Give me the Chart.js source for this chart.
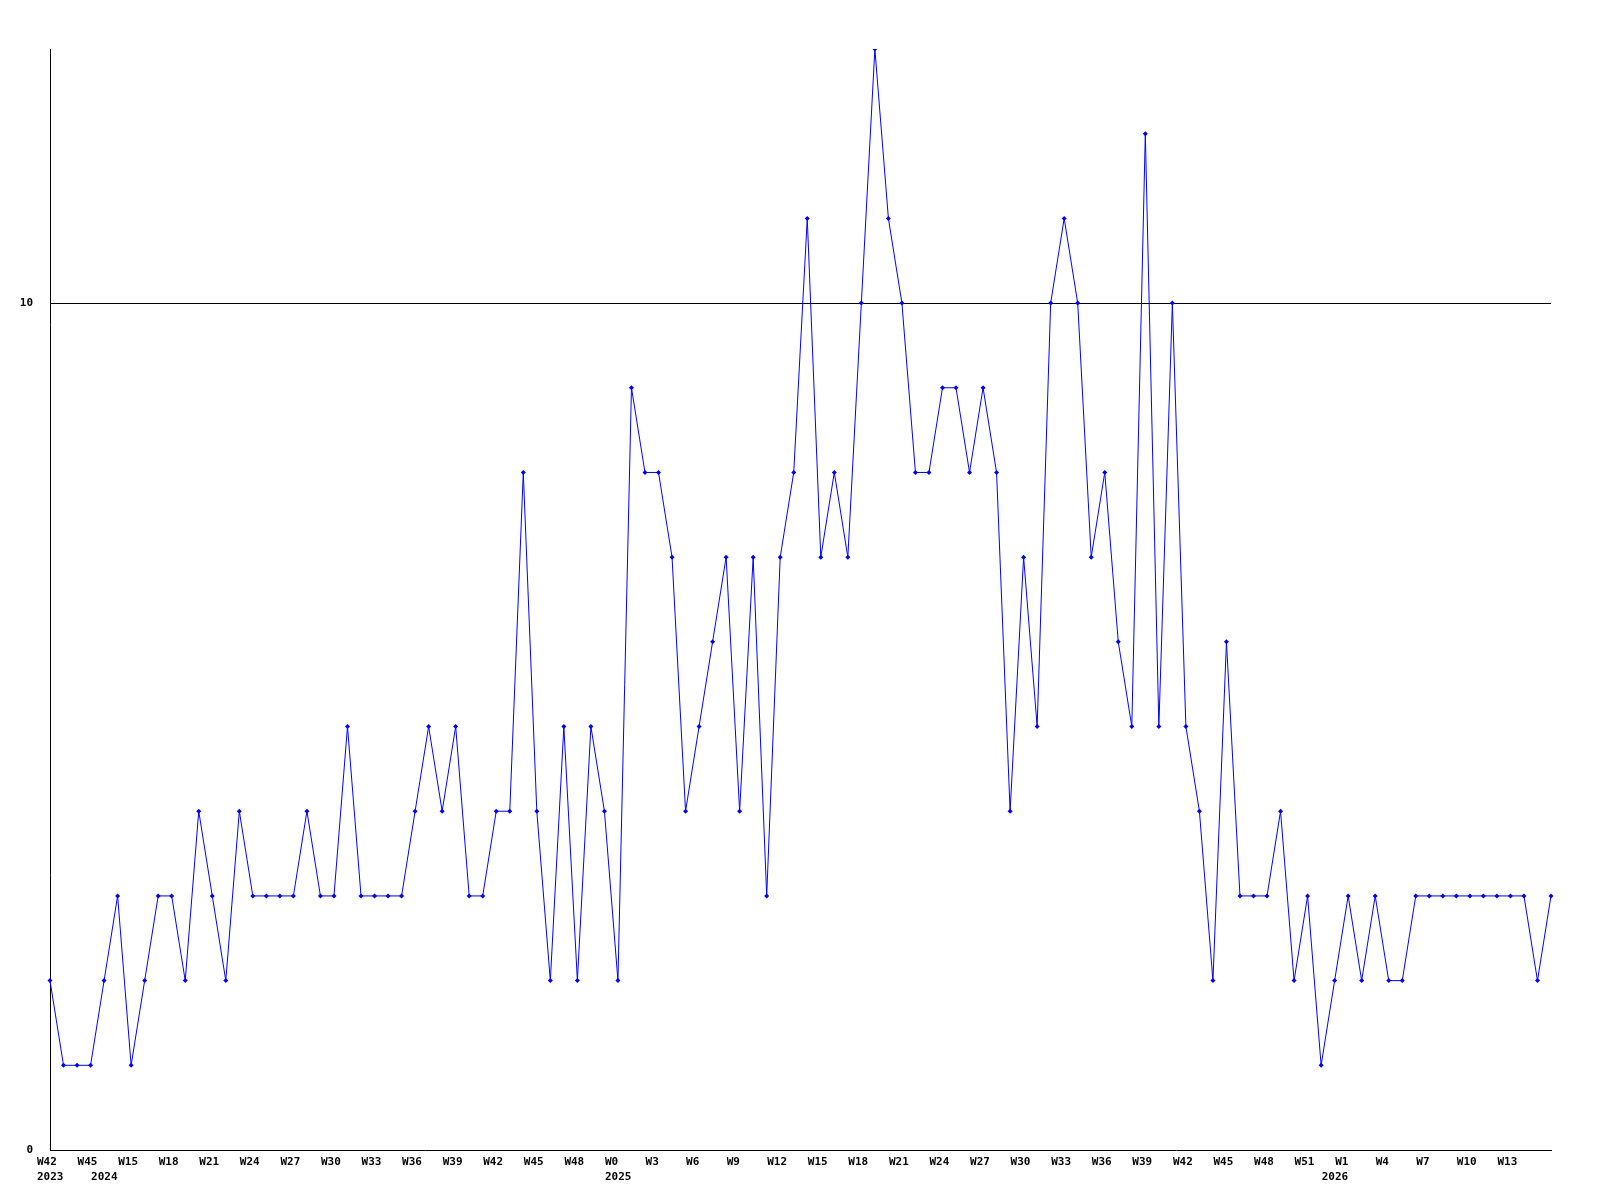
<!DOCTYPE html>
<html>
<head>
<meta charset="utf-8">
<script src="https://cdn.jsdelivr.net/npm/chart.js@4/dist/chart.umd.min.js"></script>
<style>
  html, body { margin: 0; padding: 0; background: #fff; }
  #wrap { width: 1600px; height: 1200px; }
</style>
</head>
<body>
<div id="wrap"><canvas id="myChart" width="1600" height="1200"></canvas></div>
<script>
// week labels, one per point
const weeks = [
    "W42", "W43", "W44", "W45",
    "W13", "W14", "W15", "W16", "W17", "W18", "W19", "W20", "W21", "W22", "W23", "W24",
    "W25", "W26", "W27", "W28", "W29", "W30", "W31", "W32", "W33", "W34", "W35", "W36",
    "W37", "W38", "W39", "W40", "W41", "W42", "W43", "W44", "W45", "W46", "W47", "W48",
    "W49", "W50",
    "W0", "W1", "W2", "W3", "W4", "W5", "W6", "W7", "W8", "W9", "W10", "W11", "W12",
    "W13", "W14", "W15", "W16", "W17", "W18", "W19", "W20", "W21", "W22", "W23", "W24",
    "W25", "W26", "W27", "W28", "W29", "W30", "W31", "W32", "W33", "W34", "W35", "W36",
    "W37", "W38", "W39", "W40", "W41", "W42", "W43", "W44", "W45", "W46", "W47", "W48",
    "W49", "W50", "W51", "W52",
    "W0", "W1", "W2", "W3", "W4", "W5", "W6", "W7", "W8", "W9", "W10", "W11", "W12",
    "W13", "W14", "W15", "W16",
];

// year shown under the first point of each year
const years = { 0: "2023", 4: "2024", 42: "2025", 95: "2026" };

const values = [
    2, 1, 1, 1, 2, 3, 1, 2, 3, 3, 2, 4, 3, 2, 4, 3, 3, 3, 3, 4,
    3, 3, 5, 3, 3, 3, 3, 4, 5, 4, 5, 3, 3, 4, 4, 8, 4, 2, 5, 2,
    5, 4, 2, 9, 8, 8, 7, 4, 5, 6, 7, 4, 7, 3, 7, 8, 11, 7, 8, 7,
    10, 13, 11, 10, 8, 8, 9, 9, 8, 9, 8, 4, 7, 5, 10, 11, 10, 7, 8, 6,
    5, 12, 5, 10, 5, 4, 2, 6, 3, 3, 3, 4, 2, 3, 1, 2, 3, 2, 3, 2,
    2, 3, 3, 3, 3, 3, 3, 3, 3, 3, 2, 3,
];

const yMax = 13;
const yStep = 10;

const tickFont = { family: "'DejaVu Sans Mono', monospace", size: 11, weight: "bold", lineHeight: 1.35 };

const ctx = document.getElementById("myChart").getContext("2d");

const data = {
    labels: weeks,
    datasets: [
        {
            data: values,
            borderColor: "#0000ff",
            backgroundColor: "#0000ff",
            borderWidth: 1,
            tension: 0,
            pointStyle: "rectRot",
            pointRadius: 2.5,
            pointBorderWidth: 0,
            pointBackgroundColor: "#0000ff",
        },
    ],
};

const config = {
    type: "line",
    data: data,
    options: {
        responsive: false,
        animation: false,
        layout: {
            padding: { top: 49, right: 49, left: 0, bottom: 0 },
        },
        plugins: {
            legend: { display: false },
            tooltip: { enabled: false },
        },
        scales: {
            x: {
                offset: false,
                grid: { display: false, drawTicks: false },
                border: { color: "#000", width: 1 },
                afterFit: (scale) => { scale.height = 50; },
                ticks: {
                    autoSkip: false,
                    maxRotation: 0,
                    minRotation: 0,
                    align: "start",
                    labelOffset: -13,
                    padding: 5,
                    color: "#000",
                    font: tickFont,
                    callback: function (val, i) {
                        // every third week, last point has no room for a label
                        const wk = i % 3 === 0 && i < weeks.length - 1 ? weeks[i] : "";
                        const yr = years[i];
                        return yr ? [wk, yr] : wk;
                    },
                },
            },
            y: {
                min: 0,
                max: yMax,
                afterFit: (scale) => { scale.width = 50; },
                afterBuildTicks: (scale) => {
                    scale.ticks = scale.ticks.filter((t) => t.value % yStep === 0);
                },
                grid: {
                    drawTicks: false,
                    color: (c) => (c.tick && c.tick.value === 10 ? "#000" : "rgba(0,0,0,0)"),
                    lineWidth: 1,
                },
                border: { color: "#000", width: 1 },
                ticks: {
                    stepSize: yStep,
                    padding: 17,
                    color: "#000",
                    font: tickFont,
                },
            },
        },
    },
};

const chart = new Chart(ctx, config);
</script>
</body>
</html>
